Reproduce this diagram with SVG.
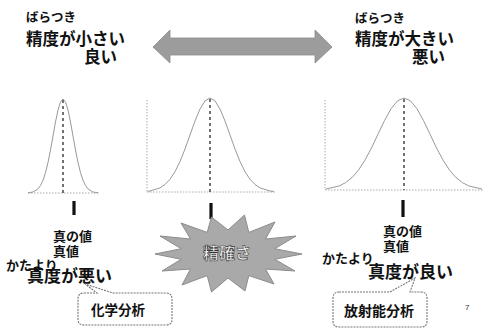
<svg xmlns="http://www.w3.org/2000/svg" width="484" height="328" viewBox="0 0 484 328">
<style>
text{font-family:"Noto Sans CJK JP","Noto Sans",sans-serif;font-weight:bold;fill:#111}
.s{font-size:12.5px}
.m{font-size:16.5px}
.l{font-size:17px}
.c{font-size:13.5px}
.curve{fill:none;stroke:#999;stroke-width:1}
.axis{fill:none;stroke:#aaa;stroke-width:1;stroke-dasharray:1.5 1.5}
.mean{fill:none;stroke:#444;stroke-width:1.5;stroke-dasharray:3 3}
.tick{stroke:#111;stroke-width:3.2}
.callout{fill:#fff;stroke:#777;stroke-width:1.1;stroke-dasharray:2 1}
</style>
<rect width="484" height="328" fill="#fff"/>

<g id="top-left">
<text class="s" x="26" y="22">ばらつき</text>
<text class="m" x="26" y="45">精度が小さい</text>
<text class="m" x="84" y="63">良い</text>
</g>
<g id="top-right">
<text class="s" x="355" y="23">ばらつき</text>
<text class="m" x="355" y="45">精度が大きい</text>
<text class="m" x="412" y="63">悪い</text>
</g>

<g id="double-arrow">
<polygon points="153,47 170,30 170,38 315,38 315,30 332,47 315,63 315,55 170,55 170,63" fill="#9c9c9c" stroke="#8a8a8a" stroke-width="0.8"/>
</g>

<g id="chart-left">
<line class="axis" x1="28" y1="193" x2="100" y2="193"/>
<path class="curve" d="M28,192.8 L33,192 L38,188.9 L40.5,185.5 L43,180.3 L45.5,172.7 L48,162.5 L50.5,150 L53,136 L55.5,122 L58,110 L60.5,101.9 L63,99 L65.5,101.9 L68,110 L70.5,122 L73,136 L75.5,150 L78,162.5 L80.5,172.7 L83,180.3 L85.5,185.5 L88,188.9 L93,192 L98,192.8"/>
<line class="mean" x1="63" y1="100" x2="63" y2="193"/>
</g>

<g id="chart-middle">
<line class="axis" x1="147" y1="100" x2="147" y2="192"/>
<line class="axis" x1="147" y1="192" x2="276" y2="192"/>
<path class="curve" d="M148,191.3 L150,191 L160,187.9 L165,184.5 L170,179.3 L175,171.7 L180,161.5 L185,149 L190,135 L195,121 L200,109 L205,100.9 L210,98 L215,100.9 L220,109 L225,121 L230,135 L235,149 L240,161.5 L245,171.7 L250,179.3 L255,184.5 L260,187.9 L270,191 L274,191.5"/>
<line class="mean" x1="210" y1="99" x2="210" y2="192"/>
</g>

<g id="chart-right">
<line class="axis" x1="325" y1="100" x2="325" y2="190"/>
<line class="axis" x1="325" y1="190" x2="484" y2="190"/>
<path class="curve" d="M326,189 L339,186 L345.5,182.7 L352,177.6 L358.5,170.1 L365,160.1 L371.5,147.9 L378,134.2 L384.5,120.6 L391,108.8 L397.5,100.8 L404,98 L410.5,100.8 L417,108.8 L423.5,120.6 L430,134.2 L436.5,147.9 L443,160.1 L449.5,170.1 L456,177.6 L462.5,182.7 L469,186 L482,189"/>
<line class="mean" x1="404" y1="99" x2="404" y2="190"/>
</g>

<g id="markers">
<line class="tick" x1="74" y1="201" x2="74" y2="215"/>
<line class="tick" x1="211" y1="203" x2="211" y2="219"/>
<line class="tick" x1="403" y1="200" x2="403" y2="217"/>
</g>

<g id="label-left">
<text class="s" x="53" y="241" style="font-size:13px">真の値</text>
<text class="s" x="53" y="256" style="font-size:13px">真値</text>
<text class="s" x="6" y="270" style="font-size:13px">かたより</text>
<text class="l" x="27" y="282">真度が悪い</text>
</g>

<g id="label-right">
<text class="s" x="383" y="236" style="font-size:13px">真の値</text>
<text class="s" x="383" y="251" style="font-size:13px">真値</text>
<text class="s" x="322" y="263" style="font-size:13px">かたより</text>
<text class="l" x="368" y="278">真度が良い</text>
</g>

<g id="burst">
<polygon points="302,254 274.8,248.7 296,236 265.5,239 275,222 248.8,232.4 244.5,215 228,230 211.5,217 207.2,232.4 181,223 190.5,239 160,236 181.2,248.7 155,254 181.2,259.3 162,271 190.5,269 182,285 207.2,275.6 211.5,292 228,278 245,291 248.8,275.6 274,284 265.5,269 295,271 274.8,259.3" fill="#a9a9a9" stroke="#8c8c8c" stroke-width="1"/>
<text x="203" y="259" style="font-size:16px;fill:#f4f4f4;stroke:#333;stroke-width:0.6">精確さ</text>
</g>

<g id="callout-chem">
<path class="callout" d="M84,293 L97,293 L85,284 L113,293 L166,293 Q172,293 172,299 L172,319 Q172,325 166,325 L84,325 Q78,325 78,319 L78,299 Q78,293 84,293 Z"/>
<text class="c" x="118" y="315" text-anchor="middle">化学分析</text>
</g>

<g id="callout-rad">
<path class="callout" d="M339,292 L390,292 L415,278 L410,292 L421,292 Q427,292 427,298 L427,321 Q427,327 421,327 L339,327 Q333,327 333,321 L333,298 Q333,292 339,292 Z"/>
<text class="c" x="379" y="316" text-anchor="middle" style="font-size:14px">放射能分析</text>
</g>

<text x="465" y="310" style="font-size:8px;font-weight:normal;fill:#333;font-family:'Liberation Sans',sans-serif">7</text>
</svg>
